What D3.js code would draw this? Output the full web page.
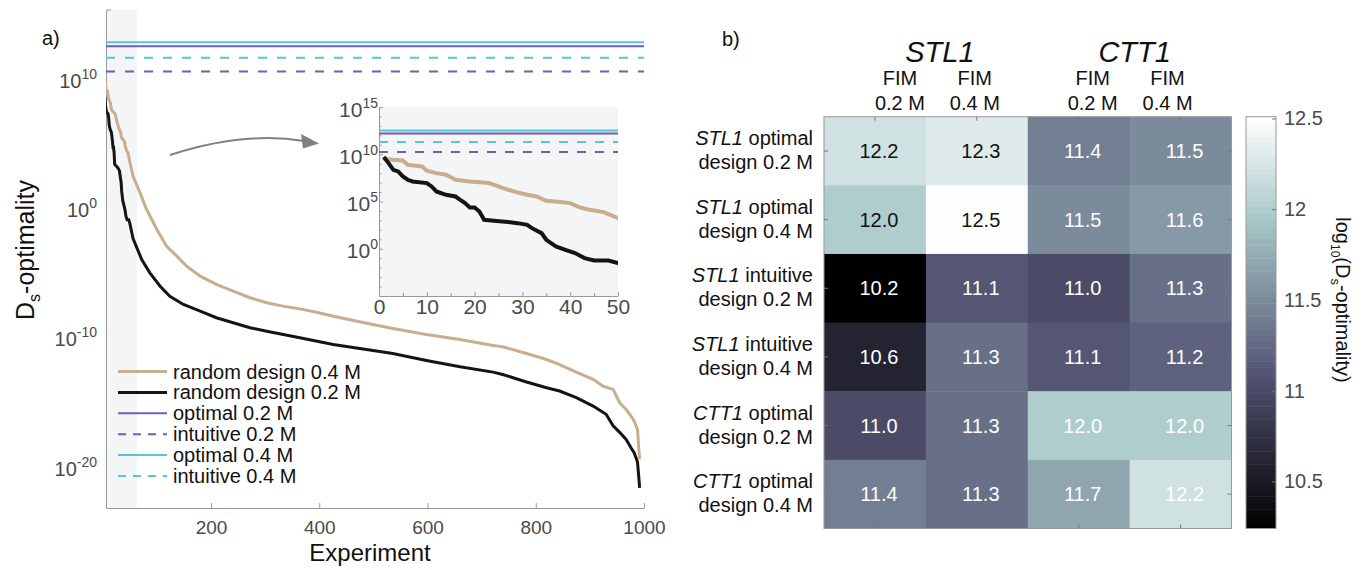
<!DOCTYPE html>
<html>
<head>
<meta charset="utf-8">
<script src="https://cdn.jsdelivr.net/npm/d3@7"></script>
<style>
body { margin: 0; background: #fff; }
svg text { font-family: "Liberation Sans", Arial, Helvetica, sans-serif; }
</style>
</head>
<body>
<svg id="fig" width="1369" height="570"></svg>
<script>
// ---- panel a) data: [experiment, log10(Ds-optimality)]
var random04 = [
    [1, 9.52], [3, 9.41], [5, 9.34], [6, 8.88], [9, 8.7], [10, 8.25], [12, 8.0], [14, 7.83],
    [16, 7.3], [19, 7.12], [23, 6.95], [25, 6.59], [27, 6.24], [29, 5.95], [31, 5.71],
    [33, 5.53], [35, 5.08], [38, 4.94], [40, 4.83], [42, 4.37], [44, 4.12], [47, 3.88],
    [50, 3.24], [56, 2.13], [69, 0.84], [81, -0.45], [100, -2.0], [118, -3.29], [137, -4.06],
    [155, -4.84], [180, -5.61], [210, -6.25], [241, -6.77], [272, -7.28], [303, -7.67],
    [333, -7.93], [364, -8.14], [395, -8.4], [426, -8.71], [481, -9.2], [536, -9.66],
    [598, -10.12], [660, -10.51], [721, -10.98], [739, -11.08], [783, -11.6], [820, -12.06],
    [844, -12.45], [875, -13.04], [906, -13.6], [924, -14.12], [943, -14.38], [955, -15.41],
    [967, -15.93], [976, -16.45], [982, -16.83], [988, -17.48], [990, -18.77], [992, -19.8]
];
var random02 = [
    [1, 9.7], [2, 9.06], [3, 8.35], [4, 8.18], [5, 7.65], [6, 7.3], [7, 7.12], [10, 6.95],
    [11, 6.59], [12, 6.06], [14, 5.71], [16, 5.53], [17, 5.18], [18, 4.83], [19, 4.36],
    [20, 4.36], [21, 3.94], [22, 3.06], [24, 2.96], [27, 2.82], [29, 2.71], [31, 2.53],
    [32, 2.18], [34, 1.65], [35, 0.95], [37, 0.24], [39, -0.11], [41, -0.46], [43, -0.99],
    [45, -1.24], [48, -1.24], [50, -1.52], [56, -2.7], [72, -4.32], [87, -5.35], [106, -6.39],
    [124, -7.16], [149, -7.8], [180, -8.32], [210, -8.83], [241, -9.22], [272, -9.6],
    [303, -9.87], [364, -10.38], [426, -10.9], [481, -11.25], [536, -11.6], [598, -12.14],
    [660, -12.63], [721, -13.04], [739, -13.22], [783, -13.8], [820, -14.25], [844, -14.5],
    [875, -15.02], [906, -15.67], [930, -16.3], [943, -17.2], [955, -17.7], [967, -18.25],
    [976, -18.9], [982, -19.3], [988, -20.0], [992, -22.0]
];
// reference designs, log10 values
var refNames = ["optimal 0.2 M", "intuitive 0.2 M", "optimal 0.4 M", "intuitive 0.4 M"];
var refValues = [12.2, 10.24, 12.51, 11.3];

var xTicksMain = [200, 400, 600, 800, 1000];
var yTicksMain = [-20, -10, 0, 10];
var xTicksInset = [0, 10, 20, 30, 40, 50];
var yTicksInset = [0, 5, 10, 15];

// ---- panel b) data
var rowGenes = ["STL1", "STL1", "STL1", "STL1", "CTT1", "CTT1"];
var rowDesigns = ["optimal", "optimal", "intuitive", "intuitive", "optimal", "optimal"];
var rowMolar = ["0.2 M", "0.4 M", "0.2 M", "0.4 M", "0.2 M", "0.4 M"];
var colGroups = ["STL1", "CTT1"];
var colMolar = ["0.2 M", "0.4 M", "0.2 M", "0.4 M"];
var heatValues = [
    [12.2, 12.3, 11.4, 11.5],
    [12.0, 12.5, 11.5, 11.6],
    [10.2, 11.1, 11.0, 11.3],
    [10.6, 11.3, 11.1, 11.2],
    [11.0, 11.3, 12.0, 12.0],
    [11.4, 11.3, 11.7, 12.2]
];
var colorDomain = [10.24, 12.51];
var colorbarTicks = [10.5, 11, 11.5, 12, 12.5];

var svg = d3.select("#fig");
var TAN = "#c8ad8e", BLACK = "#141414", PURPLE = "#6a60b4", CYAN = "#56c6d0";
var SHADE = "#f4f5f7", AXIS = "#9a9a9a", TICKTXT = "#4a4a4a";

function pow10(v) { return Math.pow(10, v); }

function sciLabel(sel, exp, size, supSize) {
    sel.append("tspan").text("10").style("font-size", size + "px");
    sel.append("tspan").text(exp).style("font-size", supSize + "px").attr("dy", -Math.round(size * 0.45));
}

function drawMain() {
    var x = d3.scaleLinear().domain([6, 1000]).range([106, 644]);
    var y = d3.scaleLog().domain([pow10(-23.56), pow10(15)]).range([508, 10]);
    var g = svg.append("g");

    g.append("clipPath").attr("id", "main-clip").append("rect")
        .attr("x", 106).attr("y", 10).attr("width", 538).attr("height", 498);

    // zoom-in region
    g.append("rect").attr("x", x(6)).attr("y", 10)
        .attr("width", x(63) - x(6)).attr("height", 498).attr("fill", SHADE);

    var xAxisG = g.append("g").attr("transform", "translate(0,508)")
        .call(d3.axisBottom(x).tickValues(xTicksMain).tickSizeInner(-5).tickSizeOuter(0).tickPadding(13)
            .tickFormat(d3.format("d")));
    var yAxisG = g.append("g").attr("transform", "translate(106,0)")
        .call(d3.axisLeft(y).tickValues(yTicksMain.map(pow10)).tickSize(0).tickFormat(""));
    [xAxisG, yAxisG].forEach(function(a) {
        a.select(".domain").attr("stroke", AXIS);
        a.selectAll("line").attr("stroke", AXIS);
    });
    xAxisG.selectAll("text").style("font-size", "19px").attr("fill", TICKTXT);
    g.append("line").attr("x1", 106).attr("x2", 111).attr("y1", y(pow10(15))).attr("y2", y(pow10(15)))
        .attr("stroke", AXIS);

    yAxisG.selectAll(".tick").each(function(d) {
        var t = d3.select(this).append("text").attr("x", -9).attr("y", 13)
            .attr("text-anchor", "end").attr("fill", TICKTXT);
        sciLabel(t, Math.round(Math.log10(d)), 20, 14);
    });

    var line = d3.line().x(function(d) { return x(d[0]); }).y(function(d) { return y(pow10(d[1])); });
    var plot = g.append("g").attr("clip-path", "url(#main-clip)");
    plot.append("path").datum(random04).attr("d", line)
        .attr("fill", "none").attr("stroke", TAN).attr("stroke-width", 3);
    plot.append("path").datum(random02).attr("d", line)
        .attr("fill", "none").attr("stroke", BLACK).attr("stroke-width", 3);

    plot.selectAll("line.ref").data(refValues).enter().append("line")
        .attr("class", "ref")
        .attr("x1", 106).attr("x2", 644)
        .attr("y1", function(d) { return y(pow10(d)); })
        .attr("y2", function(d) { return y(pow10(d)); })
        .attr("stroke", function(d, i) { return i < 2 ? PURPLE : CYAN; })
        .attr("stroke-width", 2)
        .attr("stroke-dasharray", function(d, i) { return i % 2 ? "9,10" : null; });

    // legend
    var entries = [
        {label: "random design 0.4 M", color: TAN, dash: null, w: 3},
        {label: "random design 0.2 M", color: BLACK, dash: null, w: 3},
        {label: refNames[0], color: PURPLE, dash: null, w: 2},
        {label: refNames[1], color: PURPLE, dash: "8,7", w: 2},
        {label: refNames[2], color: CYAN, dash: null, w: 2},
        {label: refNames[3], color: CYAN, dash: "8,7", w: 2}
    ];
    var leg = g.selectAll("g.leg").data(entries).enter().append("g")
        .attr("transform", function(d, i) { return "translate(118," + (371.5 + i * 20.9) + ")"; });
    leg.append("line").attr("x1", 0).attr("x2", 49)
        .attr("stroke", function(d) { return d.color; })
        .attr("stroke-width", function(d) { return d.w; })
        .attr("stroke-dasharray", function(d) { return d.dash; });
    leg.append("text").attr("x", 55).attr("y", 7).style("font-size", "20px").attr("fill", "#111")
        .text(function(d) { return d.label; });

    // axis titles
    g.append("text").attr("x", 370).attr("y", 561).attr("text-anchor", "middle")
        .style("font-size", "24px").attr("fill", "#111").text("Experiment");
    var yl = g.append("text").attr("transform", "translate(34,250) rotate(-90)")
        .attr("text-anchor", "middle").style("font-size", "25px").attr("fill", "#111");
    yl.append("tspan").text("D");
    yl.append("tspan").text("s").style("font-size", "16px").attr("dy", 6);
    yl.append("tspan").text("-optimality").attr("dy", -6);

    g.append("text").attr("x", 42).attr("y", 45).style("font-size", "20px").attr("fill", "#111").text("a)");

    // arrow towards the inset
    g.append("path").attr("d", "M170,155 Q245,131 304,141")
        .attr("fill", "none").attr("stroke", "#808080").attr("stroke-width", 2);
    g.append("path").attr("d", "M301,134 L319,143.5 L303,148.5 Z").attr("fill", "#808080");
}

function drawInset() {
    var x = d3.scaleLinear().domain([0, 50]).range([379, 618]);
    var y = d3.scaleLog().domain([pow10(-5), pow10(15)]).range([296, 107]);
    var g = svg.append("g");

    g.append("rect").attr("x", 379).attr("y", 107).attr("width", 239).attr("height", 189).attr("fill", SHADE);
    g.append("clipPath").attr("id", "inset-clip").append("rect")
        .attr("x", 379).attr("y", 107).attr("width", 239).attr("height", 189);

    var minorX = d3.range(5, 50, 10);
    var minorY = d3.range(-5, 16).filter(function(v) { return v % 5 !== 0; }).map(pow10);
    var xa = g.append("g").attr("transform", "translate(0,296)")
        .call(d3.axisBottom(x).tickValues(xTicksInset).tickSizeInner(-4).tickSizeOuter(0).tickPadding(3));
    var xm = g.append("g").attr("transform", "translate(0,296)")
        .call(d3.axisBottom(x).tickValues(minorX).tickSizeInner(-3).tickSizeOuter(0).tickFormat(""));
    var ya = g.append("g").attr("transform", "translate(379,0)")
        .call(d3.axisLeft(y).tickValues(yTicksInset.map(pow10)).tickSizeInner(-4).tickSizeOuter(0).tickFormat(""));
    var ym = g.append("g").attr("transform", "translate(379,0)")
        .call(d3.axisLeft(y).tickValues(minorY).tickSizeInner(-2.5).tickSizeOuter(0).tickFormat(""));
    [xa, xm, ya, ym].forEach(function(a) {
        a.select(".domain").attr("stroke", AXIS);
        a.selectAll("line").attr("stroke", AXIS);
    });
    xm.select(".domain").remove();
    ym.select(".domain").remove();
    xa.selectAll("text").style("font-size", "21px").attr("fill", TICKTXT);
    ya.selectAll(".tick").each(function(d) {
        var t = d3.select(this).append("text").attr("x", -1).attr("y", 9)
            .attr("text-anchor", "end").attr("fill", TICKTXT);
        sciLabel(t, Math.round(Math.log10(d)), 21, 14);
    });

    var line = d3.line().x(function(d) { return x(d[0]); }).y(function(d) { return y(pow10(d[1])); });
    var plot = g.append("g").attr("clip-path", "url(#inset-clip)");
    plot.selectAll("line.ref").data(refValues).enter().append("line")
        .attr("x1", 379).attr("x2", 618)
        .attr("y1", function(d) { return y(pow10(d)); })
        .attr("y2", function(d) { return y(pow10(d)); })
        .attr("stroke", function(d, i) { return i < 2 ? PURPLE : CYAN; })
        .attr("stroke-width", 2)
        .attr("stroke-dasharray", function(d, i) { return i % 2 ? "9,9" : null; });
    plot.append("path").datum(random04).attr("d", line)
        .attr("fill", "none").attr("stroke", TAN).attr("stroke-width", 4);
    plot.append("path").datum(random02).attr("d", line)
        .attr("fill", "none").attr("stroke", BLACK).attr("stroke-width", 4);
}

// MATLAB bone colormap: (7*gray + fliplr(hot)) / 8
function bone(t) {
    t = Math.max(0, Math.min(1, t));
    var cl = function(v) { return Math.max(0, Math.min(1, v)); };
    var hr = cl(t / 0.375), hg = cl((t - 0.375) / 0.375), hb = cl((t - 0.75) / 0.25);
    return d3.rgb(255 * (7 * t + hb) / 8, 255 * (7 * t + hg) / 8, 255 * (7 * t + hr) / 8);
}

function drawHeatmap() {
    var left = 824, right = 1231.5, top = 116.7, bottom = 528.5;
    var xs = d3.scaleBand().domain(d3.range(colMolar.length)).range([left, right]);
    var ys = d3.scaleBand().domain(d3.range(rowGenes.length)).range([top, bottom]);
    var c = d3.scaleLinear().domain(colorDomain).range([0, 1]).clamp(true);
    var g = svg.append("g");

    var cells = [];
    heatValues.forEach(function(row, i) {
        row.forEach(function(v, j) { cells.push({i: i, j: j, v: v}); });
    });
    g.selectAll("rect.cell").data(cells).enter().append("rect")
        .attr("x", function(d) { return xs(d.j); })
        .attr("y", function(d) { return ys(d.i); })
        .attr("width", xs.bandwidth() + 0.5).attr("height", ys.bandwidth() + 0.5)
        .attr("fill", function(d) { return bone(c(d.v)); });
    g.selectAll("text.val").data(cells).enter().append("text")
        .attr("x", function(d) { return xs(d.j) + xs.bandwidth() / 2 + 4; })
        .attr("y", function(d) { return ys(d.i) + ys.bandwidth() / 2 + 7; })
        .attr("text-anchor", "middle").style("font-size", "20px")
        .attr("fill", function(d) { return (d.i < 2 && d.j < 2) ? "#111" : "#fff"; })
        .text(function(d) { return d.v.toFixed(1); });

    g.append("rect").attr("x", left).attr("y", top).attr("width", right - left).attr("height", bottom - top)
        .attr("fill", "none").attr("stroke", AXIS).attr("stroke-width", 1);

    // box ticks
    var tk = g.append("g").attr("stroke", "#777").attr("stroke-width", 1);
    d3.range(colMolar.length).forEach(function(j) {
        var cx = xs(j) + xs.bandwidth() / 2;
        tk.append("line").attr("x1", cx).attr("x2", cx).attr("y1", top).attr("y2", top + 4);
        tk.append("line").attr("x1", cx).attr("x2", cx).attr("y1", bottom).attr("y2", bottom - 4);
    });
    d3.range(rowGenes.length).forEach(function(i) {
        var cy = ys(i) + ys.bandwidth() / 2;
        tk.append("line").attr("x1", left).attr("x2", left + 4).attr("y1", cy).attr("y2", cy);
        tk.append("line").attr("x1", right).attr("x2", right - 4).attr("y1", cy).attr("y2", cy);
    });

    // column headers (placed as in the figure, slightly off the tick centres)
    var headerShift = [25, -2, 14, -13];
    colMolar.forEach(function(m, j) {
        var cx = xs(j) + xs.bandwidth() / 2 + headerShift[j];
        g.append("text").attr("x", cx).attr("y", 85).attr("text-anchor", "middle")
            .style("font-size", "20px").attr("fill", "#111").text("FIM");
        g.append("text").attr("x", cx).attr("y", 110).attr("text-anchor", "middle")
            .style("font-size", "20px").attr("fill", "#111").text(m);
    });
    colGroups.forEach(function(name, k) {
        var cx = (xs(2 * k) + xs(2 * k + 1) + xs.bandwidth()) / 2 + [14, 5][k];
        g.append("text").attr("x", cx).attr("y", 62).attr("text-anchor", "middle")
            .style("font-size", "29px").style("font-style", "italic").attr("fill", "#111").text(name);
    });

    // row labels
    rowGenes.forEach(function(gene, i) {
        var cy = ys(i) + ys.bandwidth() / 2;
        var t1 = g.append("text").attr("x", 813).attr("y", cy - 6).attr("text-anchor", "end")
            .style("font-size", "20px").attr("fill", "#111");
        t1.append("tspan").style("font-style", "italic").text(gene);
        t1.append("tspan").text(" " + rowDesigns[i]);
        g.append("text").attr("x", 813).attr("y", cy + 18).attr("text-anchor", "end")
            .style("font-size", "20px").attr("fill", "#111").text("design " + rowMolar[i]);
    });

    g.append("text").attr("x", 722).attr("y", 46).style("font-size", "20px").attr("fill", "#111").text("b)");

    // colorbar
    var cbL = 1246, cbW = 30;
    var cy = d3.scaleLinear().domain(colorDomain).range([bottom, top]);
    var levels = d3.range(64);
    var step = (colorDomain[1] - colorDomain[0]) / 64;
    g.selectAll("rect.cb").data(levels).enter().append("rect")
        .attr("x", cbL).attr("width", cbW)
        .attr("y", function(k) { return cy(colorDomain[0] + (k + 1) * step); })
        .attr("height", function(k) { return cy(colorDomain[0] + k * step) - cy(colorDomain[0] + (k + 1) * step) + 0.5; })
        .attr("fill", function(k) { return bone((k + 0.5) / 64); });
    g.append("rect").attr("x", cbL).attr("y", top).attr("width", cbW).attr("height", bottom - top)
        .attr("fill", "none").attr("stroke", AXIS);
    var cba = g.append("g").attr("transform", "translate(" + (cbL + cbW) + ",0)")
        .call(d3.axisRight(cy).tickValues(colorbarTicks).tickSizeInner(-4).tickSizeOuter(0).tickPadding(8)
            .tickFormat(function(d) { return String(d); }));
    cba.select(".domain").remove();
    cba.selectAll("line").attr("stroke", "#777");
    cba.selectAll("text").style("font-size", "20px").attr("fill", TICKTXT);

    var cl = g.append("text").attr("transform", "translate(1336,300) rotate(90)")
        .attr("text-anchor", "middle").style("font-size", "20px").attr("fill", "#111");
    cl.append("tspan").text("log");
    cl.append("tspan").text("10").style("font-size", "12px").attr("dy", 5);
    cl.append("tspan").text("(D").attr("dy", -5);
    cl.append("tspan").text("s").style("font-size", "13px").attr("dy", 5);
    cl.append("tspan").text("-optimality)").attr("dy", -5);
}

drawMain();
drawInset();
drawHeatmap();
</script>
</body>
</html>
